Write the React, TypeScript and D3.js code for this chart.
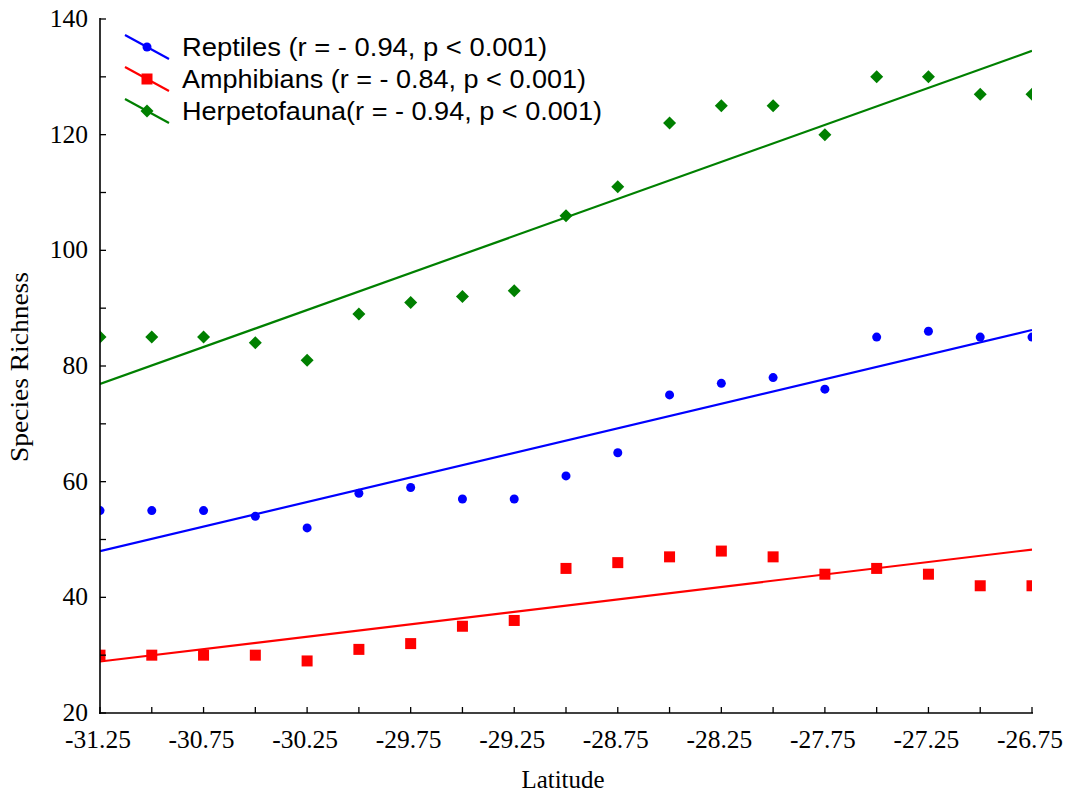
import React from "react";
import * as d3 from "d3";

const latitudes = [-31.25, -31.0, -30.75, -30.5, -30.25, -30.0, -29.75, -29.5, -29.25, -29.0, -28.75, -28.5, -28.25, -28.0, -27.75, -27.5, -27.25, -27.0, -26.75];
const reptiles = [55, 55, 55, 54, 52, 58, 59, 57, 57, 61, 65, 75, 77, 78, 76, 85, 86, 85, 85];
const amphibians = [30, 30, 30, 30, 29, 31, 32, 35, 36, 45, 46, 47, 48, 47, 44, 45, 44, 42, 42];
const herpetofauna = [85, 85, 85, 84, 81, 89, 91, 92, 93, 106, 111, 122, 125, 125, 120, 130, 130, 127, 127];
const xTickLabels = [-31.25, -30.75, -30.25, -29.75, -29.25, -28.75, -28.25, -27.75, -27.25, -26.75];
const yTickLabels = [20, 40, 60, 80, 100, 120, 140];
const legendLabels = [
  "Reptiles (r = - 0.94, p < 0.001)",
  "Amphibians (r = - 0.84, p < 0.001)",
  "Herpetofauna(r = - 0.94, p < 0.001)",
];
const legendWidths = [365, 404, 420];

const W = 1073, H = 797;
const L = 100, R = 1032, T = 19, B = 713;

function fit(xs: number[], ys: number[]) {
  const mx = d3.mean(xs)!, my = d3.mean(ys)!;
  let num = 0, den = 0;
  xs.forEach((x, i) => { num += (x - mx) * (ys[i] - my); den += (x - mx) * (x - mx); });
  const b = num / den;
  return (x: number) => my + b * (x - mx);
}

const SERIF = "'Liberation Serif', 'Times New Roman', serif";

export default function App() {
  const x = d3.scaleLinear().domain([-31.25, -26.75]).range([L, R]);
  const y = d3.scaleLinear().domain([20, 140]).range([B, T]);
  const xTicks = d3.range(0, 19).map(i => -31.25 + i * 0.25);
  const yTicks = d3.range(20, 141, 10);

  const series = [
    { name: "rep", data: reptiles, color: "#0000ff", shape: "circle" },
    { name: "amp", data: amphibians, color: "#ff0000", shape: "square" },
    { name: "herp", data: herpetofauna, color: "#008000", shape: "diamond" },
  ];

  const marker = (shape: string, cx: number, cy: number, color: string, key: any) => {
    if (shape === "circle") return <circle key={key} cx={cx} cy={cy} r={4.5} fill={color} />;
    if (shape === "square") return <rect key={key} x={cx - 5.5} y={cy - 5.5} width={11} height={11} fill={color} />;
    const d = 6.5;
    return <path key={key} d={`M${cx},${cy - d}L${cx + d},${cy}L${cx},${cy + d}L${cx - d},${cy}Z`} fill={color} />;
  };

  return (
    <svg width={W} height={H} style={{ position: "absolute", left: 0, top: 0, background: "#fff" }}>
      <defs>
        <clipPath id="plot"><rect x={L} y={T} width={R - L} height={B - T} /></clipPath>
      </defs>
      <rect x={0} y={0} width={W} height={H} fill="#fff" />
      <g clipPath="url(#plot)">
        {series.map(s => {
          const f = fit(latitudes, s.data);
          const x0 = -31.25, x1 = -26.75;
          return (
            <line key={s.name + "fit"} x1={x(x0)} y1={y(f(x0))} x2={x(x1)} y2={y(f(x1))}
              stroke={s.color} strokeWidth={2.2} />
          );
        })}
        {series.map(s => s.data.map((v, i) => marker(s.shape, x(latitudes[i]), y(v), s.color, s.name + i)))}
      </g>
      <line x1={L} y1={T - 1} x2={L} y2={B + 1} stroke="#000" strokeWidth={1.6} />
      <line x1={L - 1} y1={B} x2={R + 1} y2={B} stroke="#000" strokeWidth={1.6} />
      {yTicks.map(t => <line key={"yt" + t} x1={L} x2={L + 6} y1={y(t)} y2={y(t)} stroke="#000" strokeWidth={1.3} />)}
      {xTicks.map(t => <line key={"xt" + t} x1={x(t)} x2={x(t)} y1={B} y2={B - 6} stroke="#000" strokeWidth={1.3} />)}
      {yTickLabels.map(t => (
        <text key={"yl" + t} x={88} y={y(t) + 8} textAnchor="end" fontFamily={SERIF} fontSize={25.5} fill="#000">{t}</text>
      ))}
      {xTickLabels.map(t => (
        <text key={"xl" + t} x={x(t) - 2} y={748} textAnchor="middle" fontFamily={SERIF} fontSize={25.5} fill="#000">{t.toFixed(2)}</text>
      ))}
      <text x={563} y={788} textAnchor="middle" fontFamily={SERIF} fontSize={25} textLength={83} lengthAdjust="spacingAndGlyphs" fill="#000">Latitude</text>
      <text transform="translate(28,367) rotate(-90)" textAnchor="middle" fontFamily={SERIF} fontSize={26} textLength={190} lengthAdjust="spacingAndGlyphs" fill="#000">Species Richness</text>
      {series.map((s, i) => {
        const cy = 47 + i * 32;
        return (
          <g key={"lg" + i}>
            <line x1={125} y1={cy - 12} x2={169} y2={cy + 12} stroke={s.color} strokeWidth={2.2} />
            {marker(s.shape, 147, cy, s.color, "lm" + i)}
            <text x={182} y={cy + 9} fontFamily="'Liberation Sans', Arial, sans-serif" fontSize={26} textLength={legendWidths[i]} lengthAdjust="spacingAndGlyphs" fill="#000">{legendLabels[i]}</text>
          </g>
        );
      })}
    </svg>
  );
}
